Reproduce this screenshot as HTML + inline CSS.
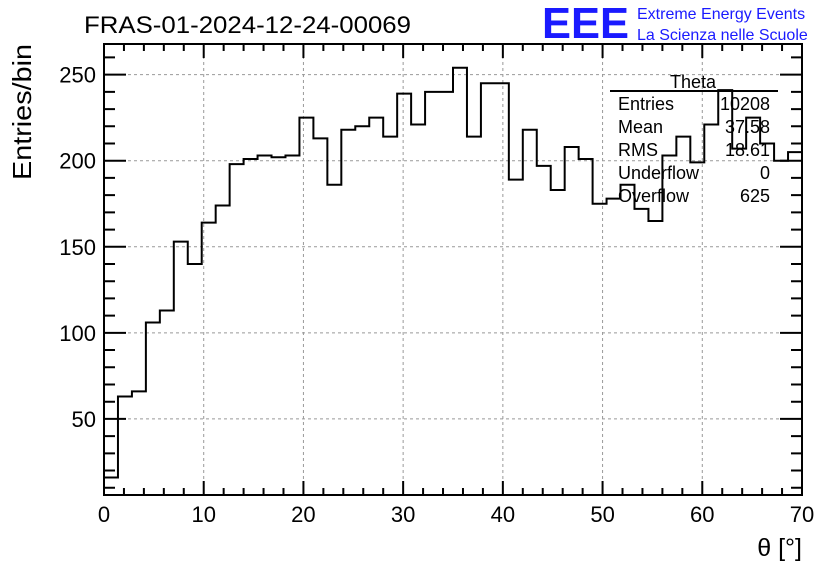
<!DOCTYPE html>
<html><head><meta charset="utf-8"><style>
body{margin:0;background:#fff;}
svg{display:block;font-family:"Liberation Sans",sans-serif;}
</style></head><body>
<svg id="chart" width="836" height="572" viewBox="0 0 836 572" xmlns="http://www.w3.org/2000/svg">
<rect width="836" height="572" fill="#fff"/>
<text x="84" y="33" font-size="24" fill="#000" textLength="327" lengthAdjust="spacingAndGlyphs">FRAS-01-2024-12-24-00069</text>
<text x="542" y="38" font-size="44" font-weight="bold" fill="#1a1aff" textLength="87" lengthAdjust="spacingAndGlyphs">EEE</text>
<text x="637" y="19" font-size="16" fill="#1a1aff">Extreme Energy Events</text>
<text x="637" y="40" font-size="16" fill="#1a1aff">La Scienza nelle Scuole</text>
<g id="grid"></g>
<g id="ticks"></g>
<path id="hist" fill="none" stroke="#000" stroke-width="2"/>
<rect x="104" y="44" width="698" height="451" fill="none" stroke="#000" stroke-width="2"/>
<g id="labels" font-size="22"></g>
<text transform="translate(31,112) rotate(-90)" text-anchor="middle" font-size="26" textLength="136" lengthAdjust="spacingAndGlyphs">Entries/bin</text>
<text x="802" y="556" text-anchor="end" font-size="25">θ [°]</text>
<g font-size="18">
<text x="693" y="88" text-anchor="middle">Theta</text>
<line x1="610" y1="91" x2="778" y2="91" stroke="#000" stroke-width="2"/>
<text x="618" y="110">Entries</text><text x="770" y="110" text-anchor="end">10208</text>
<text x="618" y="133">Mean</text><text x="770" y="133" text-anchor="end">37.58</text>
<text x="618" y="156">RMS</text><text x="770" y="156" text-anchor="end">18.61</text>
<text x="618" y="179">Underflow</text><text x="770" y="179" text-anchor="end">0</text>
<text x="618" y="202">Overflow</text><text x="770" y="202" text-anchor="end">625</text>
</g>
</svg>
<script>
const counts = [16,63,66,106,113,153,140,164,174,198,201,203,202,203,225,213,186,218,220,225,214,239,221,240,240,254,214,245,245,189,218,197,183,208,201,175,178,186,172,165,203,214,199,221,241,207,225,210,200,205];
const xTicks = [0,10,20,30,40,50,60,70];
const yTicks = [50,100,150,200,250];
const xMin = 0, xMax = 70, binWidth = 1.4;
const yMin = 5.8, yMax = 267.8;
const NS = "http://www.w3.org/2000/svg";
const L = 104, R = 802, T = 44, B = 495;
function xs(v){return L + (v - xMin) / (xMax - xMin) * (R - L);}
function ys(v){return B - (v - yMin) / (yMax - yMin) * (B - T);}
function mk(tag, attrs, parent){const e=document.createElementNS(NS,tag);for(const k in attrs)e.setAttribute(k,attrs[k]);parent.appendChild(e);return e;}
const grid=document.getElementById('grid'), ticks=document.getElementById('ticks'), labels=document.getElementById('labels');
xTicks.forEach(t=>{
  const x=xs(t);
  if(t>xMin&&t<xMax){
    const g=mk('line',{x1:x,x2:x,y1:T,y2:B,stroke:'#999','stroke-dasharray':'3,3','stroke-width':1},grid);
    
    
  }
  const lb=mk('text',{x:x,y:522,'text-anchor':'middle'},labels);
  lb.textContent=t;
  
  
});
yTicks.forEach(t=>{
  const y=ys(t);
  const g=mk('line',{x1:L,x2:R,y1:y,y2:y,stroke:'#999','stroke-dasharray':'3,3','stroke-width':1},grid);
  
  
  const lb=mk('text',{x:96,y:y+8,'text-anchor':'end'},labels);
  lb.textContent=t;
  
  
});
let d='';
for(let v=xMin;v<=xMax+1e-9;v+=2){
  const x=xs(v), len=(Math.round(v)%10===0)?14:7;
  d+=`M${x},${B}V${B-len}M${x},${T}V${T+len}`;
}
for(let v=10;v<=yMax;v+=10){
  const y=ys(v), len=(v%50===0)?22:11;
  d+=`M${L},${y}H${L+len}M${R},${y}H${R-len}`;
}
const tk=mk('path',{d:d,stroke:'#000','stroke-width':2,fill:'none'},ticks);


let p=`M${xs(0)},${ys(counts[0])}`;
counts.forEach((c,i)=>{
  p+=`V${ys(c)}H${xs((i+1)*binWidth)}`;
});
document.getElementById('hist').setAttribute('d',p);
</script>
</body></html>
